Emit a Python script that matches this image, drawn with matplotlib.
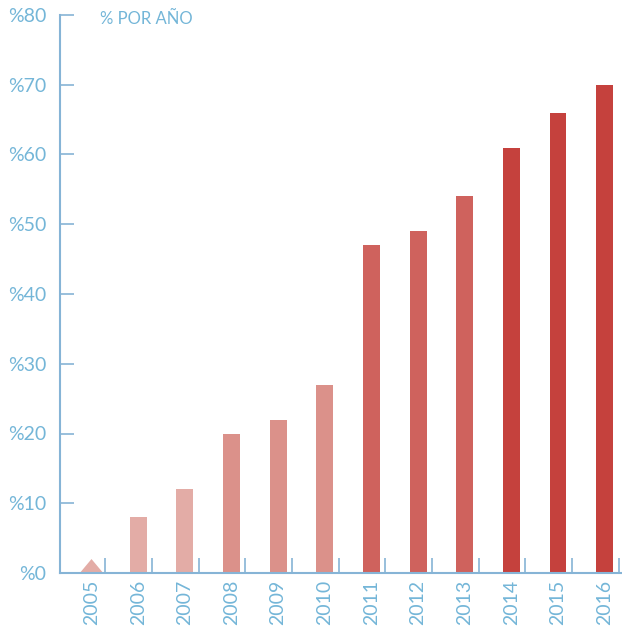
import matplotlib
matplotlib.use("Agg")
import matplotlib.pyplot as plt

# datos
anios = ["2005", "2006", "2007", "2008", "2009", "2010",
         "2011", "2012", "2013", "2014", "2015", "2016"]
valores = [2, 8, 12, 20, 22, 27, 47, 49, 54, 61, 66, 70]
colores = ["#E3ACA6", "#E3ACA6", "#E3ACA6", "#DB918A", "#DB918A", "#DB918A",
           "#CF625D", "#CF625D", "#CF625D", "#C5413D", "#C5413D", "#C5413D"]
yticks = [0, 10, 20, 30, 40, 50, 60, 70, 80]
ytick_labels = [f"%{v}" for v in yticks]
titulo = "% POR AÑO"

AZUL_TXT = "#74B6D8"
AZUL_EJE = "#86B4D6"

plt.rcParams["font.family"] = ["Lato", "DejaVu Sans"]

fig = plt.figure(figsize=(6.22, 6.26), dpi=100)
ax = fig.add_axes([60 / 622, 1 - 573 / 626, 1 - 60 / 622, (573 - 15) / 626])

x = list(range(len(anios)))
ancho = 0.36

# 2005 como triángulo, el resto como barras
tri_w = 0.25
ax.fill([x[0] - tri_w, x[0], x[0] + tri_w], [0, valores[0], 0],
        color=colores[0], lw=0, zorder=2)
ax.bar(x[1:], valores[1:], width=ancho, color=colores[1:], zorder=2)

ax.set_xlim(-0.675, 11.37)
ax.set_ylim(0, 80)

# ejes
for lado in ("top", "right"):
    ax.spines[lado].set_visible(False)
ax.spines["left"].set_color(AZUL_EJE)
ax.spines["left"].set_linewidth(1.5)
ax.spines["bottom"].set_color(AZUL_EJE)
ax.spines["bottom"].set_linewidth(1.5)

ax.set_yticks(yticks)
ax.set_yticklabels(ytick_labels)
ax.tick_params(axis="y", direction="in", length=10, width=1.2,
               color=AZUL_EJE, labelcolor=AZUL_TXT, labelsize=14, pad=10)

ax.set_xticks(x)
ax.set_xticklabels(anios, rotation=90)
ax.tick_params(axis="x", which="major", length=0, labelcolor=AZUL_TXT,
               labelsize=14, pad=5)
ax.set_xticks([i + 0.3 for i in x], minor=True)
ax.tick_params(axis="x", which="minor", direction="in", length=11, width=1.2,
               color=AZUL_EJE)

fig.text(100 / 622, 1 - 19 / 626, titulo, color=AZUL_TXT, fontsize=12,
         va="center", ha="left")

fig.savefig("out.png", dpi=100)
